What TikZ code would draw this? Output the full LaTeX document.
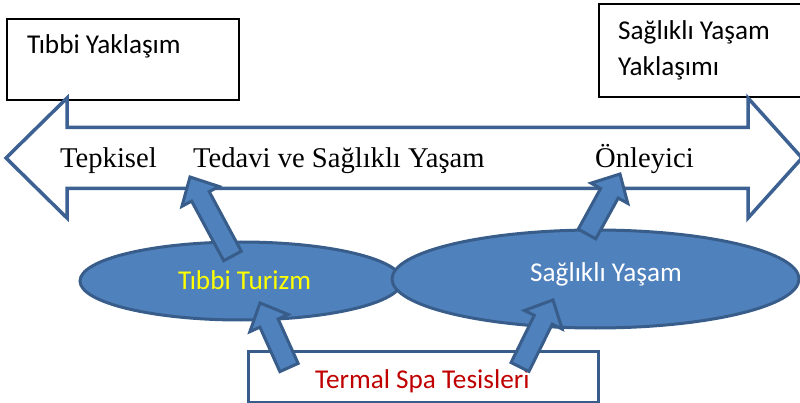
\documentclass[tikz,border=0pt]{standalone}
\usepackage{fontspec}
\setmainfont{Liberation Serif}
\newfontfamily\calib{Carlito}
\usetikzlibrary{calc,shapes.geometric}
\definecolor{arrowblue}{HTML}{3C6192}
\definecolor{fillblue}{HTML}{4F81BD}
\definecolor{edgeblue}{HTML}{385D8A}
\definecolor{spared}{HTML}{C00000}
\definecolor{tyellow}{HTML}{FFFF00}
\tikzset{
  topbox/.style={draw=black, line width=2pt, fill=white, anchor=north west, inner sep=0pt},
  serlabel/.style={anchor=base west, inner sep=0pt, font=\fontsize{28.6}{32}\selectfont},
  sanlabel/.style={anchor=base west, inner sep=0pt, font=\calib\fontsize{27.2}{30}\selectfont},
  bubble/.style={ellipse, draw=edgeblue, fill=fillblue, line width=3pt, inner sep=0pt},
  bigarrow/.style={draw=arrowblue, fill=white, line width=3.5pt, line join=miter},
  blockar/.style={draw=edgeblue, fill=fillblue, line width=3pt, line join=miter},
  spabox/.style={draw=edgeblue, fill=white, line width=3pt, anchor=north west, inner sep=0pt}
}
\newcommand\blockarrow[2]{%
  \coordinate (bh) at ($(#2)!22pt!(#1)$);
  \draw[blockar] ($(#1)!10pt!-90:(#2)$) -- ($(bh)!10pt!-90:(#2)$) -- ($(bh)!21pt!-90:(#2)$) -- (#2)
    -- ($(bh)!21pt!90:(#2)$) -- ($(bh)!10pt!90:(#2)$) -- ($(#1)!10pt!90:(#2)$) -- cycle;}
\begin{document}
\begin{tikzpicture}[x=1pt, y=-1pt]
\useasboundingbox (0,0) rectangle (800,403);
\clip (0,0) rectangle (800,403);
% top boxes
\node[topbox, minimum width=232pt, minimum height=81pt] (tybox) at (6,18) {};
\node[sanlabel] (tytext) at (27,54) {Tıbbi Yaklaşım};
\node[topbox, minimum width=210pt, minimum height=93pt] (sybox) at (598,3) {};
\node[sanlabel] (sytext1) at (618,40) {Sağlıklı Yaşam};
\node[sanlabel] (sytext2) at (618,76) {Yaklaşımı};
% double arrow
\draw[bigarrow] (6,158) -- (67,98) -- (67,127.5) -- (748,127.5) -- (748,98) -- (802,158)
  -- (748,218) -- (748,188.5) -- (67,188.5) -- (67,218) -- cycle;
\node[serlabel] (tep) at (60,168) {Tepkisel};
\node[serlabel] (ted) at (193,168) {Tedavi ve Sağlıklı Yaşam};
\node[serlabel] (onl) at (595,168) {Önleyici};
% ellipses
\node[bubble, minimum width=322pt, minimum height=78pt] (tt) at (241,281) {};
\node[bubble, minimum width=407pt, minimum height=98pt] (sy) at (595.5,279) {};
\node[sanlabel, text=tyellow] (tttext) at (178,290) {Tıbbi Turizm};
\node[sanlabel, text=white] (sytext) at (530,282) {Sağlıklı Yaşam};
% bottom box
\node[spabox, minimum width=350pt, minimum height=51pt] (spa) at (247,350) {};
\node[sanlabel, text=spared] (spatext) at (315,388) {Termal Spa Tesisleri};
% block arrows
\coordinate (a1s) at (232.5,256);
\coordinate (a1t) at (190,177);
\coordinate (a2s) at (289,367.5);
\coordinate (a2t) at (260,303);
\coordinate (a3s) at (520,367);
\coordinate (a3t) at (553,300);
\coordinate (a4s) at (587,234);
\coordinate (a4t) at (620,174);
\blockarrow{a1s}{a1t}
\blockarrow{a2s}{a2t}
\blockarrow{a3s}{a3t}
\blockarrow{a4s}{a4t}
\end{tikzpicture}
\end{document}
